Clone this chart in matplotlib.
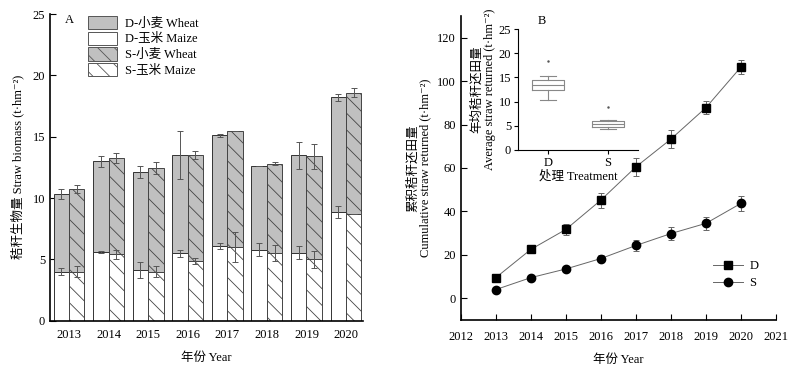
import matplotlib
matplotlib.use("Agg")
import matplotlib.pyplot as plt
import numpy as np
from matplotlib.patches import Patch
from matplotlib.lines import Line2D

plt.rcParams['font.family'] = ['Liberation Serif', 'Noto Sans CJK SC', 'DejaVu Sans']
plt.rcParams['font.size'] = 9
plt.rcParams['hatch.linewidth'] = 0.6

# ---- Panel A data ----
years = ['2013', '2014', '2015', '2016', '2017', '2018', '2019', '2020']
d_maize = [4.0, 5.6, 4.1, 5.5, 6.1, 5.8, 5.55, 8.85]
d_maize_err = [0.3, 0.1, 0.65, 0.3, 0.25, 0.5, 0.55, 0.5]
d_wheat = [6.3, 7.4, 8.0, 8.0, 9.0, 6.8, 7.95, 9.35]
d_wheat_err = [0.4, 0.45, 0.5, 1.95, 0.1, 0.0, 1.1, 0.25]
s_maize = [4.0, 5.4, 4.0, 4.9, 6.0, 5.5, 5.0, 8.7]
s_maize_err = [0.45, 0.4, 0.45, 0.25, 1.2, 0.65, 0.7, 0.0]
s_wheat = [6.75, 7.85, 8.45, 8.6, 9.45, 7.3, 8.4, 9.9]
s_wheat_err = [0.3, 0.4, 0.5, 0.35, 0.0, 0.1, 1.0, 0.35]

# ---- Panel B data ----
yrs_b = [2013, 2014, 2015, 2016, 2017, 2018, 2019, 2020]
cum_d = [9.5, 22.5, 31.7, 45.2, 60.5, 73.3, 87.8, 106.5]
cum_d_err = [0.5, 1.0, 2.5, 3.5, 4.0, 4.0, 3.0, 3.0]
cum_s = [4.0, 9.5, 13.5, 18.3, 24.3, 29.8, 34.5, 43.7]
cum_s_err = [1.0, 0.5, 1.0, 1.5, 2.5, 3.0, 3.0, 3.5]

# inset box statistics
box_labels = ['D', 'S']
box_q1 = [12.5, 4.75]
box_med = [13.4, 5.4]
box_q3 = [14.4, 5.9]
box_lo = [10.4, 4.3]
box_hi = [15.2, 6.2]
box_fliers = [[18.3], [8.8]]

fig = plt.figure(figsize=(8, 3.71), dpi=100)

# ---------------- Panel A ----------------
axA = fig.add_axes([0.0625, 0.1356, 0.3913, 0.8266])
x = np.arange(len(years))
w = 0.39
gray = '#c0c0c0'
ecol = '#333333'
hcol = '#444444'
errkw = dict(ecolor='#555555', elinewidth=0.7, capsize=2.5, capthick=0.7)
axA.bar(x - w/2, d_maize, w, color='white', edgecolor=ecol, linewidth=0.7,
        yerr=d_maize_err, error_kw=errkw, zorder=2)
axA.bar(x - w/2, d_wheat, w, bottom=d_maize, color=gray, edgecolor=ecol, linewidth=0.7,
        yerr=d_wheat_err, error_kw=errkw, zorder=2)
axA.bar(x + w/2, s_maize, w, color='white', edgecolor=hcol, linewidth=0.7, hatch='\\\\',
        yerr=s_maize_err, error_kw=errkw, zorder=2)
axA.bar(x + w/2, s_wheat, w, bottom=s_maize, color=gray, edgecolor=hcol, linewidth=0.7, hatch='\\\\',
        yerr=s_wheat_err, error_kw=errkw, zorder=2)
axA.set_xlim(-0.48, 7.43)
axA.set_ylim(0, 25)
axA.set_xticks(x)
axA.set_xticklabels(years)
axA.set_yticks([0, 5, 10, 15, 20, 25])
axA.tick_params(axis='x', length=0, pad=6)
axA.tick_params(axis='y', direction='in', length=4)
for s in ['top', 'right']:
    axA.spines[s].set_visible(False)
axA.spines['left'].set_linewidth(1.2)
axA.spines['bottom'].set_linewidth(1.2)
axA.set_xlabel('年份 Year', labelpad=8)
axA.set_ylabel('秸秆生物量 Straw biomass (t·hm⁻²)', labelpad=6)
fig.text(65/800, 1 - 20/371, 'A', fontsize=9, va='center', ha='left')
handles = [
    Patch(facecolor=gray, edgecolor='#555555', linewidth=0.7, label='D-小麦 Wheat'),
    Patch(facecolor='white', edgecolor='#555555', linewidth=0.7, label='D-玉米 Maize'),
    Patch(facecolor=gray, edgecolor='#555555', linewidth=0.7, hatch='\\\\', label='S-小麦 Wheat'),
    Patch(facecolor='white', edgecolor='#555555', linewidth=0.7, hatch='\\\\', label='S-玉米 Maize'),
]
axA.legend(handles=handles, loc='upper left', bbox_to_anchor=(88/800, 1 - 16/371),
           bbox_transform=fig.transFigure, frameon=False, borderpad=0, borderaxespad=0,
           handlelength=2.32, handleheight=1.28, handletextpad=0.64, labelspacing=0.13,
           fontsize=9)

# ---------------- Panel B ----------------
axB = fig.add_axes([0.576, 0.1375, 0.394, 0.8195])
lk = dict(color='#666666', linewidth=0.7, elinewidth=0.7, ecolor='#666666', capsize=2.5,
          capthick=0.7, markerfacecolor='black', markeredgecolor='black')
axB.errorbar(yrs_b, cum_d, yerr=cum_d_err, marker='s', markersize=5.5, label='D', **lk)
axB.errorbar(yrs_b, cum_s, yerr=cum_s_err, marker='o', markersize=6, label='S', **lk)
axB.set_xlim(2012, 2021)
axB.set_ylim(-10, 130)
axB.set_xticks(range(2012, 2022))
axB.set_yticks([0, 20, 40, 60, 80, 100, 120])
axB.tick_params(direction='in', length=4)
axB.tick_params(axis='x', pad=8)
for s in ['top', 'right']:
    axB.spines[s].set_visible(False)
axB.spines['left'].set_linewidth(1.2)
axB.spines['bottom'].set_linewidth(1.2)
axB.set_xlabel('年份 Year', labelpad=8)
axB.set_ylabel('累积秸秆还田量\nCumulative straw returned (t·hm⁻²)', labelpad=4, linespacing=1.1)
hB = [Line2D([], [], color='#666666', lw=0.7, marker='s', ms=5.5, mfc='black', mec='black'),
      Line2D([], [], color='#666666', lw=0.7, marker='o', ms=6, mfc='black', mec='black')]
axB.legend(hB, ['D', 'S'], loc='upper left', bbox_to_anchor=(713/800, 1 - 260/371),
           bbox_transform=fig.transFigure, frameon=False, borderpad=0, borderaxespad=0,
           handlelength=2.4, handletextpad=0.5, fontsize=9, labelspacing=0.4)
fig.text(542/800, 1 - 21/371, 'B', fontsize=9, va='center', ha='center')

# ---------------- Inset ----------------
axI = fig.add_axes([0.6475, 0.5957, 0.15, 0.3261])
stats = []
for i in range(2):
    stats.append(dict(label=box_labels[i], q1=box_q1[i], med=box_med[i], q3=box_q3[i],
                      whislo=box_lo[i], whishi=box_hi[i], fliers=box_fliers[i]))
bc = '#888888'
axI.bxp(stats, positions=[1, 2], widths=0.52,
        boxprops=dict(color=bc, linewidth=0.8),
        medianprops=dict(color=bc, linewidth=0.8),
        whiskerprops=dict(color=bc, linewidth=0.8),
        capprops=dict(color=bc, linewidth=0.8),
        flierprops=dict(marker='.', markersize=1.5, markerfacecolor='#555555', markeredgecolor='#555555'))
axI.set_xlim(0.5, 2.5)
axI.set_ylim(0, 25)
axI.set_yticks([0, 5, 10, 15, 20, 25])
axI.set_xticks([1, 2])
axI.set_xticklabels(box_labels)
axI.tick_params(direction='out', length=3, pad=2)
for s in ['top', 'right']:
    axI.spines[s].set_visible(False)
axI.set_xlabel('处理 Treatment', labelpad=1)
axI.set_ylabel('年均秸秆还田量\nAverage straw returned (t·hm⁻²)', labelpad=2, linespacing=1.1)

fig.savefig('out.png', dpi=100)
